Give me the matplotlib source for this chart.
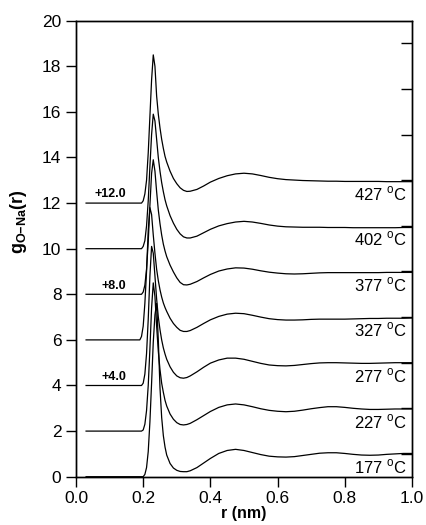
import numpy as np
import matplotlib
matplotlib.use("Agg")
import matplotlib.pyplot as plt

plt.rcParams['font.family'] = ['Liberation Sans', 'DejaVu Sans']
plt.rcParams['mathtext.fontset'] = 'custom'
plt.rcParams['mathtext.rm'] = 'Liberation Sans'
plt.rcParams['mathtext.bf'] = 'Liberation Sans:bold'

# r (nm) grid
r = [0.03, 0.19, 0.195, 0.20, 0.205, 0.21, 0.215, 0.22, 0.225, 0.23, 0.235, 0.24,
     0.245, 0.25, 0.255, 0.26, 0.265, 0.27, 0.28, 0.29, 0.30, 0.31, 0.32, 0.33,
     0.34, 0.36, 0.38, 0.40, 0.425, 0.45, 0.475, 0.50, 0.525, 0.55, 0.575, 0.60,
     0.625, 0.65, 0.675, 0.70, 0.725, 0.75, 0.775, 0.80, 0.825, 0.85, 0.875, 0.90,
     0.925, 0.95, 0.975, 1.00]

# g(r) for each temperature (without offset)
g177 = [0, 0, 0, 0, 0.1, 0.4, 1.1, 2.4, 4.1, 5.9, 7.1, 7.6,
        6.0, 3.9, 2.6, 1.8, 1.3, 0.95, 0.58, 0.38, 0.28, 0.23, 0.22, 0.22,
        0.26, 0.4, 0.6, 0.8, 1.02, 1.15, 1.2, 1.15, 1.06, 0.97, 0.9, 0.87,
        0.86, 0.88, 0.93, 0.98, 1.03, 1.05, 1.05, 1.02, 0.98, 0.95, 0.94, 0.95,
        0.98, 1.0, 1.02, 1.02]
g227 = [0, 0, 0, 0.05, 0.3, 0.9, 2.0, 3.6, 5.4, 6.5, 5.9, 4.6,
        3.5, 2.7, 2.1, 1.7, 1.35, 1.1, 0.75, 0.52, 0.37, 0.29, 0.27, 0.29,
        0.34, 0.5, 0.68, 0.86, 1.04, 1.15, 1.19, 1.15, 1.07, 0.98, 0.91, 0.87,
        0.85, 0.87, 0.92, 0.98, 1.03, 1.07, 1.07, 1.04, 1.0, 0.97, 0.95, 0.95,
        0.96, 0.97, 0.97, 0.97]
g277 = [0, 0, 0, 0.1, 0.5, 1.4, 2.9, 4.8, 6.1, 5.8, 4.8, 3.8,
        3.0, 2.45, 2.0, 1.65, 1.38, 1.15, 0.82, 0.58, 0.42, 0.34, 0.32, 0.35,
        0.42, 0.6, 0.8, 0.98, 1.12, 1.2, 1.2, 1.15, 1.06, 0.97, 0.9, 0.87,
        0.86, 0.88, 0.92, 0.96, 0.99, 1.0, 1.0, 0.99, 0.98, 0.97, 0.97, 0.98,
        0.99, 1.0, 1.0, 1.0]
g327 = [0, 0, 0.15, 0.6, 1.6, 3.0, 4.8, 5.8, 5.5, 4.6, 3.8, 3.1,
        2.6, 2.2, 1.88, 1.62, 1.42, 1.25, 0.95, 0.72, 0.55, 0.42, 0.37, 0.37,
        0.41, 0.55, 0.72, 0.88, 1.03, 1.13, 1.17, 1.15, 1.08, 1.0, 0.93, 0.89,
        0.87, 0.87, 0.88, 0.9, 0.91, 0.91, 0.91, 0.91, 0.92, 0.93, 0.94, 0.94,
        0.95, 0.95, 0.95, 0.96]
g377 = [0, 0, 0, 0.1, 0.4, 1.1, 2.3, 3.9, 5.3, 5.9, 5.4, 4.5,
        3.7, 3.1, 2.6, 2.2, 1.9, 1.65, 1.28, 0.98, 0.72, 0.52, 0.42, 0.41,
        0.44, 0.56, 0.72, 0.87, 1.02, 1.11, 1.16, 1.15, 1.1, 1.03, 0.97, 0.93,
        0.9, 0.89, 0.9, 0.92, 0.94, 0.95, 0.95, 0.95, 0.95, 0.95, 0.95, 0.95,
        0.96, 0.96, 0.96, 0.96]
g402 = [0, 0, 0, 0.1, 0.35, 1.0, 2.1, 3.6, 5.0, 5.9, 5.6, 4.8,
        4.0, 3.4, 2.9, 2.5, 2.15, 1.88, 1.45, 1.12, 0.85, 0.65, 0.52, 0.47,
        0.47, 0.55, 0.7, 0.85, 1.0, 1.1, 1.17, 1.2, 1.17, 1.11, 1.04, 0.99,
        0.96, 0.95, 0.94, 0.94, 0.94, 0.93, 0.93, 0.93, 0.92, 0.92, 0.92, 0.92,
        0.92, 0.92, 0.93, 0.93]
g427 = [0, 0, 0, 0.1, 0.4, 1.0, 2.2, 3.8, 5.4, 6.5, 6.0, 4.7,
        3.9, 3.3, 2.8, 2.4, 2.05, 1.8, 1.4, 1.08, 0.85, 0.67, 0.56, 0.51,
        0.52, 0.6, 0.75, 0.92, 1.08, 1.2, 1.28, 1.31, 1.28, 1.21, 1.13, 1.07,
        1.03, 1.01, 0.99, 0.98, 0.97, 0.96, 0.96, 0.95, 0.95, 0.95, 0.95, 0.95,
        0.94, 0.94, 0.94, 0.94]

curves = [g177, g227, g277, g327, g377, g402, g427]
temps = ["177", "227", "277", "327", "377", "402", "427"]
offsets = [0, 2, 4, 6, 8, 10, 12]
shift_labels = {4: "+4.0", 8: "+8.0", 12: "+12.0"}

fig = plt.figure(figsize=(4.26, 5.25), dpi=100)
ax = fig.add_axes([0.1784, 0.092, 0.7886, 0.8686])

for g, t, off in zip(curves, temps, offsets):
    ax.plot(r, np.array(g) + off, color='black', lw=0.9)
    ax.text(0.985, off + 0.42, t + r" $^{\mathrm{o}}$C", ha='right', va='center',
            fontsize=12)
    if off in shift_labels:
        ax.text(0.15, off + 0.12, shift_labels[off], ha='right', va='bottom',
                fontsize=9, fontweight='bold')

ax.set_xlim(0, 1.0)
ax.set_ylim(0, 20)
ax.set_xticks(np.arange(0, 1.01, 0.2))
ax.set_xticklabels([f"{v:.1f}" for v in np.arange(0, 1.01, 0.2)])
ax.set_yticks(range(0, 21, 2))
ax.tick_params(axis='both', direction='out', length=7, width=1, labelsize=12.5,
               top=False, right=False)

# inward ticks on right spine
ax2 = ax.twinx()
ax2.set_ylim(0, 20)
ax2.set_yticks(range(1, 20, 2))
ax2.tick_params(axis='y', direction='in', length=8, width=1, labelright=False)

for a in (ax, ax2):
    for s in a.spines.values():
        s.set_linewidth(1.0)

ax.set_xlabel("r (nm)", fontsize=11.5, fontweight='bold', labelpad=0)
ax.set_ylabel(r"$\mathbf{g}_{\mathbf{O{-}Na}}\mathbf{(r)}$", fontsize=13)
ax.yaxis.set_label_coords(-0.14, 0.56)

fig.savefig("out.png", dpi=100)
